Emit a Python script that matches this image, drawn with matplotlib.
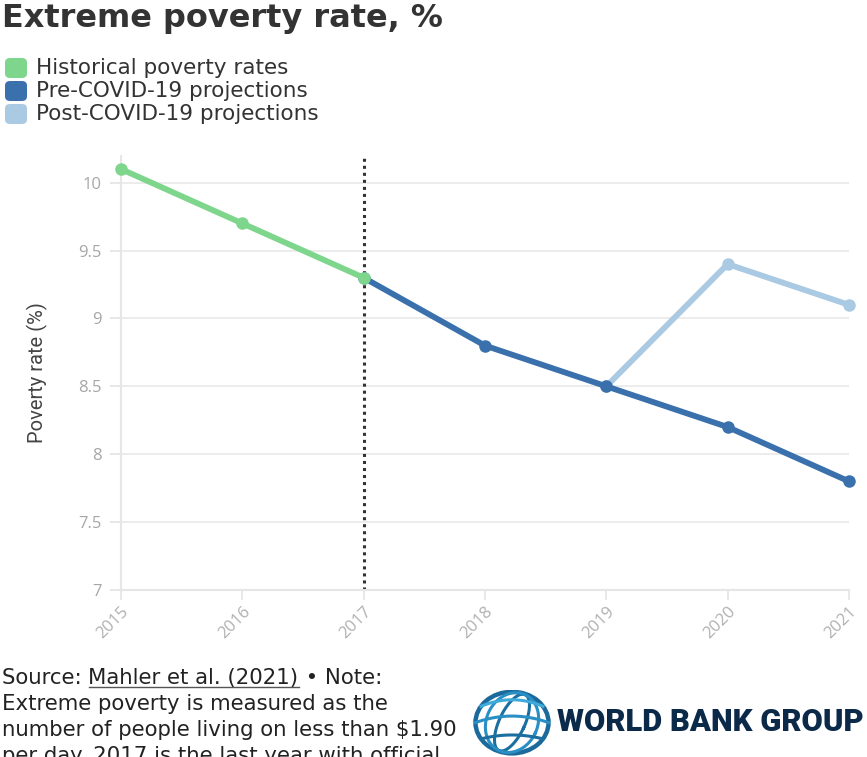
import matplotlib
matplotlib.use("Agg")
import matplotlib.pyplot as plt
from matplotlib.patches import FancyBboxPatch, Ellipse
import numpy as np

# ---- data ----
hist_years = [2015, 2016, 2017]
hist_vals = [10.1, 9.7, 9.3]
pre_years = [2017, 2018, 2019, 2020, 2021]
pre_vals = [9.3, 8.8, 8.5, 8.2, 7.8]
post_years = [2019, 2020, 2021]
post_vals = [8.5, 9.4, 9.1]
year_ticks = [2015, 2016, 2017, 2018, 2019, 2020, 2021]
y_ticks = [7, 7.5, 8, 8.5, 9, 9.5, 10]
y_tick_labels = ["7", "7.5", "8", "8.5", "9", "9.5", "10"]
legend_labels = ["Historical poverty rates", "Pre-COVID-19 projections", "Post-COVID-19 projections"]

C_HIST = "#7ed58c"
C_PRE = "#3a71ad"
C_POST = "#aac9e2"

W, H = 867, 757
fig = plt.figure(figsize=(W / 100, H / 100), dpi=100)

def fx(px):
    return px / W

def fy(py):
    return 1 - py / H

ax = fig.add_axes([fx(121), fy(590), fx(849) - fx(121), fy(155.5) - fy(590)])
ax.set_xlim(2015, 2021)
ax.set_ylim(7, 10.2)

ax.set_yticks(y_ticks)
ax.set_yticklabels(y_tick_labels)
ax.set_xticks(year_ticks)
ax.set_xticklabels([str(y) for y in year_ticks], rotation=45, ha="right", va="top",
                   rotation_mode="anchor")
for s in ["top", "right"]:
    ax.spines[s].set_visible(False)
for s in ["left", "bottom"]:
    ax.spines[s].set_color("#e6e6e6")
    ax.spines[s].set_linewidth(1.5)
ax.grid(axis="y", color="#ebebeb", linewidth=1.3)
ax.set_axisbelow(True)
ax.tick_params(axis="y", length=8, color="#e6e6e6", width=1.3, labelsize=12,
               labelcolor="#a6a6a6", pad=6)
ax.tick_params(axis="x", length=7, color="#e6e6e6", width=1.3, labelsize=12,
               labelcolor="#b0b0b0", pad=3)
for lab in ax.get_xticklabels() + ax.get_yticklabels():
    lab.set_family("Open Sans")

ax.set_ylabel("Poverty rate (%)", fontsize=14.5, color="#444444", family="Roboto",
              labelpad=22)

ax.axvline(2017, color="#333333", linestyle=(0, (1, 1.3)), linewidth=2.2, zorder=2)

lw = 4.2
ms = 8
ax.plot(post_years, post_vals, color=C_POST, lw=lw, marker="o", ms=ms,
        solid_capstyle="round", clip_on=False, zorder=3)
ax.plot(pre_years, pre_vals, color=C_PRE, lw=lw, marker="o", ms=ms,
        solid_capstyle="round", clip_on=False, zorder=4)
ax.plot(hist_years, hist_vals, color=C_HIST, lw=lw, marker="o", ms=ms,
        solid_capstyle="round", clip_on=False, zorder=5)

# ---- title ----
fig.text(fx(2), fy(19), "Extreme poverty rate, %", fontsize=23, fontweight="bold",
         family="DejaVu Sans", color="#333333", va="center", ha="left")

# ---- legend ----
for i, (lab, col) in enumerate(zip(legend_labels, [C_HIST, C_PRE, C_POST])):
    cy = 68 + i * 23
    box = FancyBboxPatch((fx(5), fy(cy + 10)), fx(22), fy(0) - fy(20),
                         boxstyle="round,pad=0,rounding_size=0.006",
                         transform=fig.transFigure, facecolor=col, edgecolor="none")
    fig.patches.append(box)
    fig.text(fx(36), fy(cy), lab, fontsize=15.5, family="DejaVu Sans", color="#333333",
             va="center", ha="left")

# ---- footer ----
foot_lines = [
    None,
    "Extreme poverty is measured as the",
    "number of people living on less than $1.90",
    "per day. 2017 is the last year with official",
]
fs_foot = 15.3
ffam = "DejaVu Sans"
base0 = 684
step = 26
t1 = fig.text(fx(2), fy(base0), "Source: ", fontsize=fs_foot, family=ffam, color="#222222",
              va="baseline", ha="left")
fig.canvas.draw()
r = fig.canvas.get_renderer()
bb = t1.get_window_extent(r)
t2 = fig.text(bb.x1 / W, fy(base0), "Mahler et al. (2021)", fontsize=fs_foot, family=ffam,
              color="#222222", va="baseline", ha="left")
bb2 = t2.get_window_extent(r)
fig.add_artist(plt.Line2D([bb2.x0 / W, bb2.x1 / W], [fy(687), fy(687)],
                          transform=fig.transFigure, color="#555555", lw=1))
fig.text(bb2.x1 / W, fy(base0), " \u2022 Note:", fontsize=fs_foot, family=ffam,
         color="#222222", va="baseline", ha="left")
for i, line in enumerate(foot_lines):
    if line is None:
        continue
    fig.text(fx(2), fy(base0 + step * i), line, fontsize=fs_foot, family=ffam,
             color="#222222", va="baseline", ha="left")

# ---- logo ----
lax = fig.add_axes([fx(470), fy(757), fx(84), fy(0) - fy(757 - 690)])
lax.set_xlim(-1.15, 1.15)
lax.set_ylim(-0.95, 0.9)
lax.axis("off")
rx, ry = 1.0, 0.85
globe_cols = ["#0b4f7c", "#1a6fa0", "#2a8fc4", "#3eaad9"]
lax.add_patch(Ellipse((0, 0), 2 * rx, 2 * ry, fill=False, lw=3.2, edgecolor="#1c6a9c"))
t = np.linspace(0, 2 * np.pi, 200)
for k, w in enumerate([0.35, 0.7]):
    xs = w * rx * np.cos(t)
    ys = ry * np.sin(t)
    ang = np.deg2rad(-25)
    xr = xs * np.cos(ang) - ys * np.sin(ang)
    yr = xs * np.sin(ang) + ys * np.cos(ang)
    m = xr ** 2 / rx ** 2 + yr ** 2 / ry ** 2 <= 1.02
    xr = np.where(m, xr, np.nan)
    lax.plot(xr, yr, color=globe_cols[k + 1], lw=2.2)
for k, yy in enumerate([-0.45, 0.0, 0.45]):
    half = rx * np.sqrt(max(0, 1 - (yy / ry) ** 2))
    xs = np.linspace(-half, half, 60)
    ys = yy + 0.18 * (1 - (xs / half) ** 2) * (1 if yy >= 0 else 0.6)
    lax.plot(xs, ys, color=globe_cols[k % 4 + 1], lw=2.2)

fig.text(fx(557), fy(722), "WORLD BANK GROUP", fontsize=22.3, fontweight="heavy",
         family="Roboto", color="#0b2a4a", va="center", ha="left")

fig.savefig("out.png", dpi=100)
